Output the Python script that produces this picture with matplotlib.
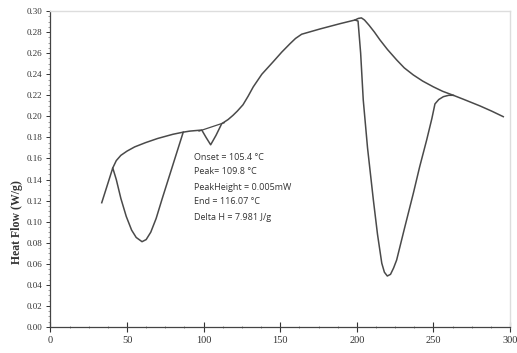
import matplotlib
matplotlib.use('Agg')
import matplotlib.pyplot as plt
from matplotlib.ticker import MultipleLocator, FormatStrFormatter

# DSC trace (temperature in C, heat flow in W/g)
temp = [33.5, 37.0, 40.7, 43.0, 46.0, 49.5, 53.0, 56.0, 59.8, 62.5, 65.5, 69.0,
        73.0, 78.0, 83.0, 86.7, 91.0, 98.8, 101.6, 104.6, 108.1, 111.8, 116.0,
        119.2, 122.0, 125.7, 129.0, 132.4, 138.0, 145.5, 151.0, 156.4, 160.0,
        164.0, 176.0, 189.0, 198.8, 200.8, 202.5, 204.2, 207.0, 210.8, 213.5,
        216.3, 218.0, 219.9, 222.0, 224.0, 226.0, 231.0, 236.9, 241.0, 245.6,
        249.0, 251.0, 253.5, 256.5, 260.0, 263.0, 270.0, 280.4, 288.0, 295.6]
heat = [0.118, 0.134, 0.151, 0.140, 0.122, 0.105, 0.092, 0.085, 0.081, 0.083,
        0.090, 0.103, 0.122, 0.145, 0.168, 0.185, 0.186, 0.187, 0.180, 0.173,
        0.182, 0.193, 0.197, 0.201, 0.205, 0.211, 0.219, 0.228, 0.240, 0.252,
        0.261, 0.269, 0.274, 0.278, 0.283, 0.288, 0.2915, 0.2905, 0.260,
        0.2156, 0.170, 0.1206, 0.088, 0.0605, 0.052, 0.0484, 0.050, 0.056,
        0.0636, 0.093, 0.127, 0.152, 0.1776, 0.198, 0.2118, 0.216, 0.2187,
        0.220, 0.220, 0.216, 0.2099, 0.205, 0.1997]

# integration baselines
base1_t = [40.7, 43.0, 46.0, 50.0, 55.0, 62.0, 70.0, 80.0, 86.7]
base1_h = [0.151, 0.158, 0.163, 0.167, 0.171, 0.175, 0.179, 0.183, 0.185]
base2_t = [97.0, 113.5]
base2_h = [0.186, 0.194]
base3_t = [198.8, 201.0, 203.0, 205.0, 208.0, 211.5, 215.1, 220.0, 226.0,
           231.0, 236.9, 243.0, 250.0, 256.0, 263.0]
base3_h = [0.2915, 0.293, 0.2935, 0.2915, 0.2865, 0.280, 0.2726, 0.2635,
           0.2536, 0.246, 0.2393, 0.2335, 0.228, 0.2238, 0.220]

info = ["Onset = 105.4 \u00b0C", "Peak= 109.8 \u00b0C", "PeakHeight = 0.005mW",
        "End = 116.07 \u00b0C", "Delta H = 7.981 J/g"]

fig = plt.figure(figsize=(5.17, 3.53), dpi=100)
ax = fig.add_axes([0.0975, 0.0737, 0.889, 0.895])

lc = '#4a4a4a'
ax.plot(temp, heat, color=lc, lw=1.1)
ax.plot(base1_t, base1_h, color=lc, lw=1.1)
ax.plot(base2_t, base2_h, color=lc, lw=0.9)
ax.plot(base3_t, base3_h, color=lc, lw=1.1)

ax.set_xlim(0, 300)
ax.set_ylim(0, 0.30)
ax.xaxis.set_major_locator(MultipleLocator(50))
ax.xaxis.set_minor_locator(MultipleLocator(12.5))
ax.yaxis.set_major_locator(MultipleLocator(0.02))
ax.yaxis.set_minor_locator(MultipleLocator(0.005))
ax.yaxis.set_major_formatter(FormatStrFormatter('%.2f'))

serif = ['Liberation Serif', 'DejaVu Serif']
ax.tick_params(axis='x', which='major', direction='inout', length=7, width=0.8,
               pad=3, labelsize=7.5, colors='#333333')
ax.tick_params(axis='x', which='minor', direction='inout', length=2, width=0.6,
               colors='#777777')
ax.tick_params(axis='y', which='major', direction='out', length=3, width=0.7,
               pad=3, labelsize=6.5, colors='#333333')
ax.tick_params(axis='y', which='minor', direction='out', length=1.5, width=0.5,
               colors='#777777')
ax.xaxis.get_major_ticks()[0].tick1line.set_visible(False)
ax.xaxis.get_major_ticks()[0].tick2line.set_visible(False)
ax.xaxis.get_major_ticks()[0].label1.set_visible(False)
for lab in ax.get_xticklabels() + ax.get_yticklabels():
    lab.set_family(serif)

for s in ['left', 'bottom']:
    ax.spines[s].set_color('#444444')
    ax.spines[s].set_linewidth(0.9)
for s in ['top', 'right']:
    ax.spines[s].set_color('#dddddd')
    ax.spines[s].set_linewidth(1.0)

fig.text(17 / 517, 1 - 222 / 353, "Heat Flow (W/g)", rotation=90, ha='center',
         va='center', fontsize=8.5, fontweight='bold', family=serif,
         color='#333333')

for i, line in enumerate(info):
    fig.text(194 / 517, 1 - (157 + 15 * i) / 353, line, ha='left', va='center',
             fontsize=6.5, family=['Open Sans', 'DejaVu Sans'], color='#333333')

fig.savefig('out.png', dpi=100)
